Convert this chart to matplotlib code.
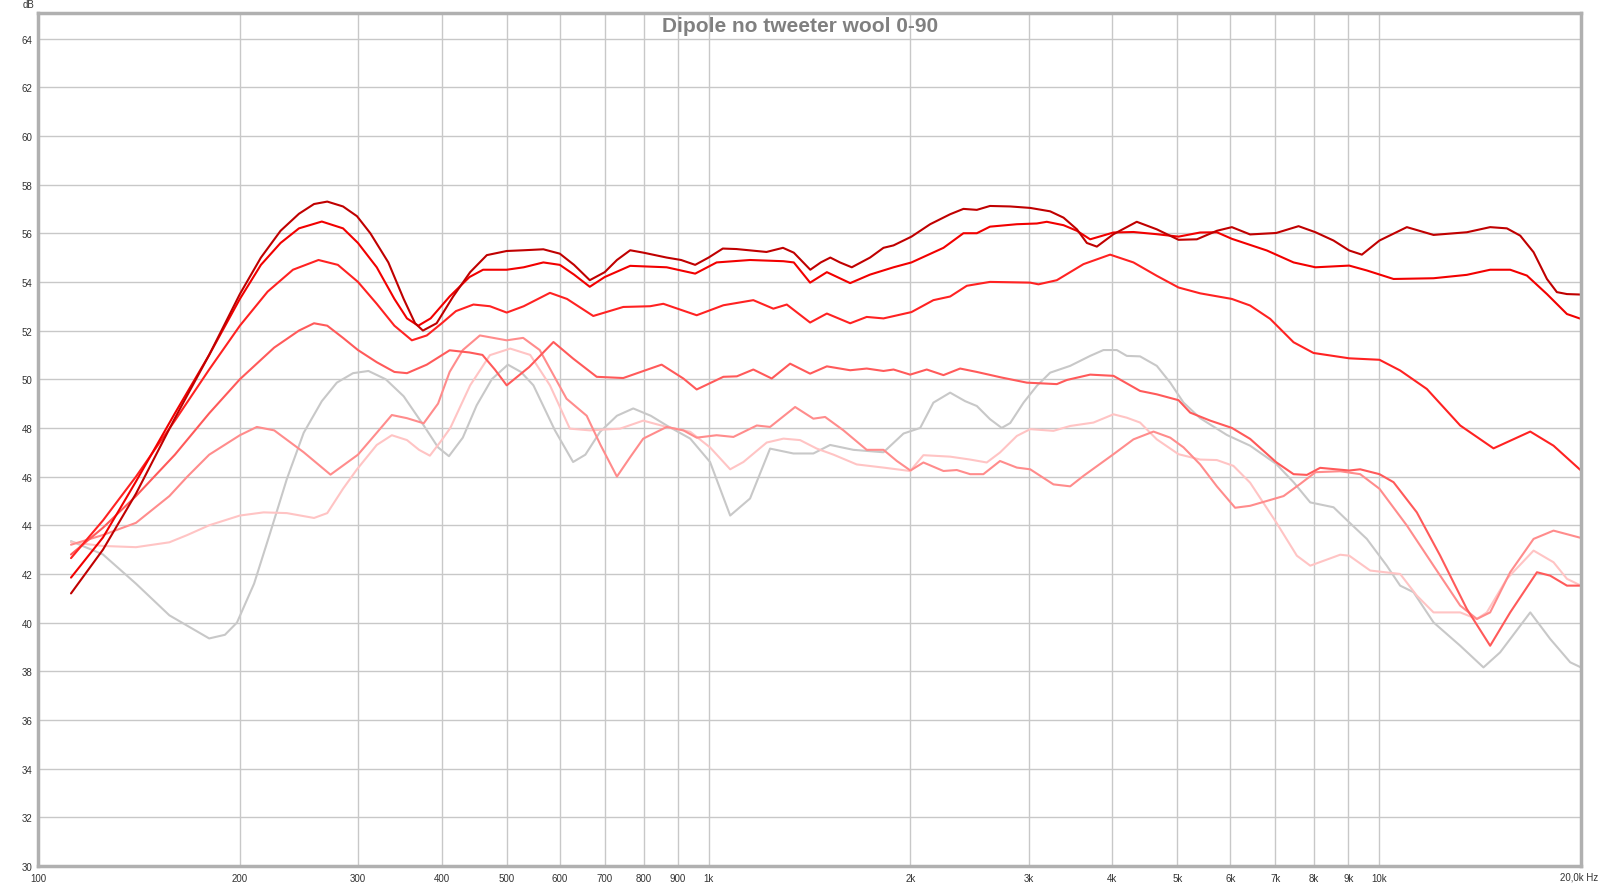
import matplotlib
matplotlib.use("Agg")
import matplotlib.pyplot as plt

# frequency response, 0-90 degrees off axis (Hz, dB)
f_0 = [112, 125, 140, 160, 180, 200, 215, 230, 245, 258, 270, 285, 299, 313, 333, 351, 365, 375, 393, 416,
       441, 467, 500, 530, 567, 600, 630, 665, 700, 730, 764, 800, 866, 910, 955, 1000, 1050, 1100, 1220,
       1291, 1340, 1418, 1470, 1519, 1570, 1635, 1741, 1823, 1887, 2007, 2140, 2292, 2399, 2512, 2628, 2817,
       3017, 3231, 3383, 3542, 3665, 3793, 4016, 4350, 4660, 5021, 5347, 5727, 6030, 6420, 7022, 7582, 8036,
       8549, 9023, 9423, 10010, 10997, 12052, 13513, 14638, 15503, 16232, 16992, 17790, 18408, 19055, 19996]
db_0 = [41.2, 43.0, 45.3, 48.4, 51.0, 53.5, 55.0, 56.1, 56.8, 57.2, 57.3, 57.1, 56.7, 56.0, 54.8, 53.3, 52.3,
        52.0, 52.3, 53.4, 54.4, 55.1, 55.27, 55.3, 55.34, 55.16, 54.7, 54.07, 54.4, 54.9, 55.3, 55.2, 55.0,
        54.9, 54.7, 55.0, 55.37, 55.35, 55.23, 55.4, 55.2, 54.5, 54.8, 55.0, 54.8, 54.6, 55.0, 55.4, 55.5,
        55.86, 56.37, 56.78, 57.0, 56.96, 57.12, 57.1, 57.04, 56.9, 56.64, 56.16, 55.6, 55.45, 55.96, 56.47,
        56.16, 55.73, 55.75, 56.1, 56.25, 55.95, 56.01, 56.29, 56.04, 55.7, 55.29, 55.12, 55.7, 56.25, 55.93,
        56.04, 56.25, 56.2, 55.9, 55.22, 54.12, 53.58, 53.5, 53.48]

f_15 = [112, 125, 140, 160, 180, 200, 215, 230, 245, 265, 285, 300, 320, 340, 355, 369, 385, 411, 440, 461,
        500, 530, 567, 600, 630, 665, 700, 764, 866, 955, 1028, 1153, 1293, 1340, 1417, 1501, 1626, 1741,
        1887, 2007, 2240, 2399, 2512, 2628, 2882, 3087, 3194, 3383, 3542, 3707, 4016, 4301, 4660, 5021, 5408,
        5727, 6030, 6801, 7453, 8036, 9023, 9585, 10505, 12052, 13513, 14638, 15681, 16608, 17790, 19055,
        19996]
db_15 = [41.85, 43.5, 45.8, 48.6, 51.0, 53.3, 54.7, 55.6, 56.2, 56.48, 56.2, 55.6, 54.6, 53.3, 52.5, 52.2,
         52.5, 53.4, 54.2, 54.5, 54.5, 54.6, 54.8, 54.7, 54.3, 53.8, 54.2, 54.66, 54.6, 54.34, 54.8, 54.9,
         54.85, 54.8, 53.97, 54.4, 53.95, 54.3, 54.6, 54.8, 55.4, 56.0, 56.0, 56.27, 56.37, 56.4, 56.47, 56.33,
         56.1, 55.75, 56.03, 56.05, 55.96, 55.86, 56.03, 56.04, 55.77, 55.29, 54.8, 54.6, 54.67, 54.47, 54.12,
         54.15, 54.29, 54.5, 54.5, 54.26, 53.5, 52.68, 52.48]

f_30 = [112, 125, 140, 160, 180, 200, 220, 240, 262, 280, 300, 320, 340, 361, 380, 400, 420, 446, 472, 500,
        530, 580, 615, 673, 746, 818, 856, 960, 1052, 1166, 1249, 1308, 1417, 1501, 1626, 1721, 1823, 2007,
        2164, 2292, 2427, 2628, 3017, 3104, 3306, 3623, 3970, 4301, 4660, 5021, 5408, 6030, 6420, 6878, 7453,
        7981, 9023, 10010, 10747, 11779, 13208, 14808, 16800, 18197, 19996]
db_30 = [42.65, 44.2, 46.0, 48.3, 50.4, 52.2, 53.6, 54.5, 54.9, 54.7, 54.0, 53.1, 52.2, 51.6, 51.8, 52.3,
         52.8, 53.07, 53.0, 52.74, 53.0, 53.55, 53.3, 52.6, 52.97, 53.0, 53.1, 52.63, 53.04, 53.25, 52.9, 53.07,
         52.33, 52.7, 52.3, 52.56, 52.5, 52.76, 53.25, 53.4, 53.84, 54.0, 53.97, 53.9, 54.07, 54.73, 55.12,
         54.8, 54.25, 53.77, 53.53, 53.3, 53.03, 52.48, 51.52, 51.08, 50.86, 50.8, 50.36, 49.6, 48.1, 47.16,
         47.85, 47.27, 46.25]

f_45 = [112, 125, 140, 160, 180, 200, 225, 245, 258, 270, 285, 300, 320, 340, 355, 380, 411, 440, 460, 480,
        500, 540, 587, 628, 681, 746, 851, 917, 960, 1052, 1102, 1166, 1242, 1323, 1417, 1501, 1626, 1721,
        1823, 1887, 1998, 2115, 2240, 2372, 2512, 2736, 2983, 3306, 3422, 3707, 4016, 4400, 4660, 5021, 5226,
        5598, 6030, 6420, 7022, 7453, 7802, 8166, 9023, 9369, 10010, 10505, 11380, 12331, 13513, 14638, 15681,
        17191, 17989, 19055, 19996]
db_45 = [42.8, 43.9, 45.2, 46.9, 48.6, 50.0, 51.3, 52.0, 52.3, 52.2, 51.7, 51.2, 50.7, 50.3, 50.25, 50.6,
         51.19, 51.1, 51.0, 50.4, 49.75, 50.5, 51.53, 50.85, 50.1, 50.05, 50.6, 50.03, 49.58, 50.1, 50.12,
         50.4, 50.03, 50.64, 50.23, 50.53, 50.37, 50.44, 50.34, 50.4, 50.19, 50.4, 50.17, 50.44, 50.3, 50.07,
         49.86, 49.8, 49.97, 50.19, 50.14, 49.52, 49.38, 49.14, 48.63, 48.3, 48.0, 47.55, 46.59, 46.1, 46.07,
         46.36, 46.25, 46.3, 46.1, 45.77, 44.53, 42.75, 40.56, 39.05, 40.42, 42.07, 41.93, 41.52, 41.52]

f_60 = [112, 125, 140, 157, 167, 180, 200, 212, 225, 249, 273, 300, 320, 337, 355, 376, 395, 411, 430, 456,
        500, 529, 560, 614, 658, 690, 730, 764, 799, 866, 917, 960, 1028, 1089, 1180, 1235, 1346, 1433, 1492,
        1589, 1721, 1823, 1909, 2000, 2091, 2240, 2345, 2455, 2569, 2720, 2882, 3017, 3268, 3461, 3623, 4016,
        4301, 4607, 4880, 5108, 5408, 5727, 6098, 6420, 6801, 7202, 7625, 8036, 8747, 9369, 10010, 10997,
        12052, 13208, 13985, 14638, 15681, 16992, 18197, 19996]
db_60 = [43.2, 43.6, 44.1, 45.2, 46.0, 46.9, 47.7, 48.04, 47.9, 47.0, 46.08, 46.9, 47.8, 48.53, 48.4, 48.19,
         49.0, 50.3, 51.2, 51.8, 51.6, 51.7, 51.2, 49.2, 48.5, 47.3, 46.0, 46.8, 47.56, 48.04, 47.9, 47.6, 47.7,
         47.63, 48.1, 48.04, 48.86, 48.38, 48.45, 47.9, 47.1, 47.1, 46.64, 46.25, 46.58, 46.23, 46.27, 46.1,
         46.1, 46.64, 46.37, 46.3, 45.68, 45.6, 46.03, 46.92, 47.53, 47.85, 47.6, 47.2, 46.5, 45.6, 44.72, 44.8,
         45.0, 45.2, 45.7, 46.18, 46.22, 46.1, 45.5, 43.99, 42.34, 40.7, 40.15, 40.42, 42.07, 43.44, 43.78,
         43.48]

f_75 = [112, 125, 140, 157, 167, 180, 200, 217, 235, 258, 270, 285, 299, 320, 337, 355, 370, 384, 400, 412,
        441, 472, 506, 542, 580, 621, 665, 738, 799, 866, 939, 1005, 1077, 1127, 1221, 1293, 1369, 1450, 1536,
        1663, 1823, 1998, 2091, 2292, 2455, 2599, 2720, 2882, 3017, 3268, 3461, 3749, 4016, 4204, 4400, 4660,
        5021, 5408, 5727, 6063, 6420, 7022, 7538, 7892, 8747, 9023, 9696, 10747, 11380, 12052, 13208, 13985,
        14472, 15503, 16992, 18197, 19055, 19996]
db_75 = [43.3, 43.15, 43.1, 43.3, 43.6, 44.0, 44.4, 44.53, 44.5, 44.3, 44.5, 45.5, 46.3, 47.3, 47.7, 47.5,
         47.1, 46.86, 47.5, 48.0, 49.75, 50.99, 51.26, 51.0, 49.75, 47.97, 47.9, 47.97, 48.3, 48.04, 47.84,
         47.2, 46.3, 46.6, 47.4, 47.56, 47.5, 47.15, 46.9, 46.5, 46.37, 46.23, 46.88, 46.82, 46.7, 46.58, 46.99,
         47.67, 47.95, 47.88, 48.08, 48.22, 48.56, 48.42, 48.22, 47.53, 46.92, 46.7, 46.68, 46.44, 45.75,
         44.12, 42.75, 42.34, 42.79, 42.75, 42.14, 42.0, 41.11, 40.42, 40.42, 40.15, 40.42, 41.8, 42.96, 42.48,
         41.8, 41.52]

f_90 = [112, 125, 140, 157, 180, 190, 198, 210, 222, 235, 249, 265, 279, 295, 311, 330, 351, 376, 395, 410,
        430, 451, 475, 502, 525, 548, 590, 628, 655, 689, 730, 772, 820, 866, 939, 1005, 1077, 1153, 1235,
        1338, 1433, 1518, 1644, 1823, 1953, 2068, 2164, 2292, 2413, 2512, 2628, 2736, 2817, 2949, 3087, 3231,
        3461, 3707, 3880, 4062, 4204, 4400, 4660, 4880, 5108, 5408, 5928, 6420, 7022, 7453, 7892, 8549, 9023,
        9585, 10265, 10747, 11250, 12052, 13208, 14306, 15150, 16800, 17989, 19271, 19996]
db_90 = [43.35, 42.8, 41.6, 40.3, 39.35, 39.5, 40.0, 41.6, 43.7, 45.9, 47.8, 49.1, 49.86, 50.25, 50.34, 50.0,
         49.3, 48.1, 47.2, 46.84, 47.6, 48.93, 50.0, 50.6, 50.3, 49.75, 47.9, 46.6, 46.9, 47.84, 48.5, 48.8,
         48.5, 48.1, 47.56, 46.6, 44.4, 45.1, 47.15, 46.95, 46.95, 47.3, 47.1, 47.0, 47.77, 48.0, 49.04, 49.45,
         49.1, 48.9, 48.36, 48.0, 48.2, 49.04, 49.73, 50.27, 50.55, 50.96, 51.2, 51.2, 50.96, 50.94, 50.55,
         49.86, 49.04, 48.4, 47.71, 47.27, 46.52, 45.77, 44.94, 44.74, 44.12, 43.44, 42.34, 41.52, 41.25, 40.01,
         39.05, 38.16, 38.78, 40.42, 39.33, 38.37, 38.16]

x_ticks = [100, 200, 300, 400, 500, 600, 700, 800, 900, 1000, 2000, 3000, 4000, 5000, 6000, 7000, 8000, 9000,
           10000, 20000]
x_labels = ["100", "200", "300", "400", "500", "600", "700", "800", "900", "1k", "2k", "3k", "4k", "5k", "6k",
            "7k", "8k", "9k", "10k", ""]
y_ticks = list(range(30, 65, 2))

plt.rcParams['font.family'] = ['Liberation Sans', 'DejaVu Sans']

fig = plt.figure(figsize=(16, 8.87), dpi=100)
ax = fig.add_axes([0.02375, 0.02255, 0.9644, 0.9617])

# draw the 90 deg curve first so the on-axis ones sit on top
curves = [
    (f_90, db_90, "#c8c8c8"),
    (f_75, db_75, "#ffc4c4"),
    (f_60, db_60, "#ff8c8c"),
    (f_45, db_45, "#ff5a5a"),
    (f_30, db_30, "#ff2222"),
    (f_15, db_15, "#f20000"),
    (f_0, db_0, "#c00000"),
]
for f, db, c in curves:
    ax.plot(f, db, color=c, lw=1.5, solid_joinstyle='round', solid_capstyle='round')

ax.set_xscale('log')
ax.set_xlim(100, 20000)
ax.set_ylim(30, 65.05)
ax.set_xticks(x_ticks)
ax.set_xticklabels(x_labels)
ax.minorticks_off()
ax.set_yticks(y_ticks)
ax.grid(True, color="#c8c8c8", lw=1)
ax.set_axisbelow(True)
ax.tick_params(length=0, labelsize=7, colors="#333333")
ax.tick_params(axis='y', pad=4)
ax.tick_params(axis='x', pad=5)
for s in ax.spines.values():
    s.set_color("#b0b0b0")
    s.set_linewidth(2.5)

fig.text(0.5, 1 - 26 / 887, "Dipole no tweeter wool 0-90", ha='center', va='center',
         fontsize=15, fontweight='bold', color="#808080")
fig.text(28 / 1600, 1 - 5 / 887, "dB", ha='center', va='center', fontsize=7, color="#333333")
fig.text(1598 / 1600, 1 - 878 / 887, "20,0k Hz", ha='right', va='center', fontsize=7, color="#333333")

fig.savefig("out.png", dpi=100)
